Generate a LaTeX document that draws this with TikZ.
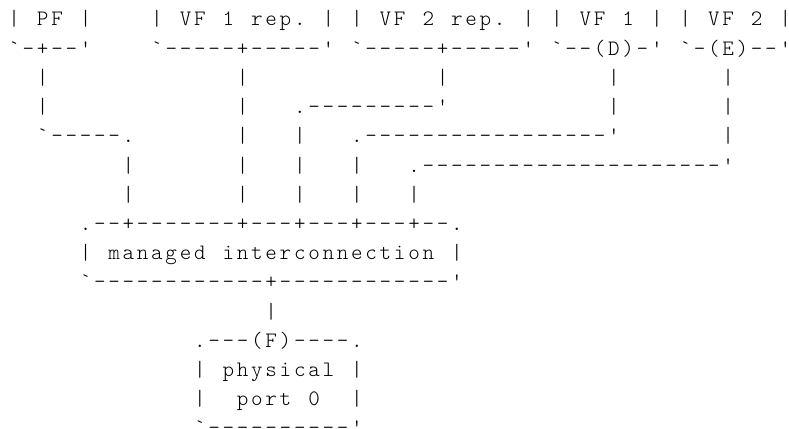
\documentclass[tikz,border=0pt]{standalone}
\usepackage{fontspec}
\setmonofont{lmmonolt10-regular.otf}
\usepackage{tikz}
\usetikzlibrary{positioning}

\newlength\cellwd
\setlength\cellwd{14.28pt}
\let\cellsend\relax
\def\cellsstep#1{\ifx#1\cellsend\else\makebox[\cellwd]{#1}\expandafter\cellsstep\fi}
\newcommand\cells[1]{\cellsstep#1\cellsend}

\begin{document}
\begin{tikzpicture}[node distance=29.2pt,
    asciiline/.style={anchor=base west, inner sep=0pt, text=black,
                      font=\ttfamily\fontsize{22pt}{29.2pt}\selectfont},
    lineunder/.style={below=of #1.base west, anchor=base west}]

  \useasboundingbox (0,0) rectangle (789pt,-428pt);
  \node[asciiline]              (A) at (6.86pt,-26pt) {\cells{|~PF~|~~~~|~VF~1~rep.~|~|~VF~2~rep.~|~|~VF~1~|~|~VF~2~|}};
  \node[asciiline, lineunder=A] (B) {\cells{`-+--'~~~~`-----+-----'~`-----+-----'~`--(D)-'~`-(E)--'}};
  \node[asciiline, lineunder=B] (C) {\cells{~~|~~~~~~~~~~~~~|~~~~~~~~~~~~~|~~~~~~~~~~~|~~~~~~~|}};
  \node[asciiline, lineunder=C] (D) {\cells{~~|~~~~~~~~~~~~~|~~~.---------'~~~~~~~~~~~|~~~~~~~|}};
  \node[asciiline, lineunder=D] (E) {\cells{~~`-----.~~~~~~~|~~~|~~~.-----------------'~~~~~~~|}};
  \node[asciiline, lineunder=E] (F) {\cells{~~~~~~~~|~~~~~~~|~~~|~~~|~~~.---------------------'}};
  \node[asciiline, lineunder=F] (G) {\cells{~~~~~~~~|~~~~~~~|~~~|~~~|~~~|}};
  \node[asciiline, lineunder=G] (H) {\cells{~~~~~.--+-------+---+---+---+--.}};
  \node[asciiline, lineunder=H] (I) {\cells{~~~~~|~managed~interconnection~|}};
  \node[asciiline, lineunder=I] (J) {\cells{~~~~~`------------+------------'}};
  \node[asciiline, lineunder=J] (K) {\cells{~~~~~~~~~~~~~~~~~~|}};
  \node[asciiline, lineunder=K] (L) {\cells{~~~~~~~~~~~~~.---(F)----.}};
  \node[asciiline, lineunder=L] (M) {\cells{~~~~~~~~~~~~~|~physical~|}};
  \node[asciiline, lineunder=M] (N) {\cells{~~~~~~~~~~~~~|~~port~0~~|}};
  \node[asciiline, lineunder=N] (O) {\cells{~~~~~~~~~~~~~`----------'}};

\end{tikzpicture}
\end{document}
